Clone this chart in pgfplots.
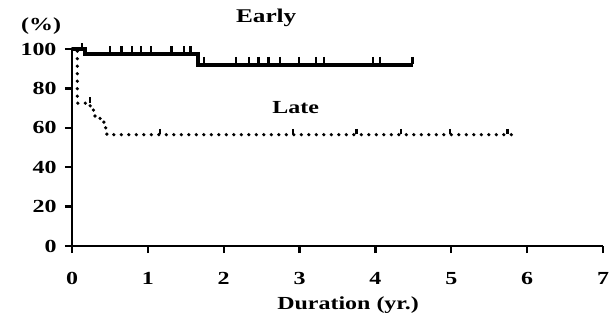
\documentclass[border=0pt]{standalone}
\usepackage{fontspec}
\setmainfont{Liberation Serif}[FakeStretch=1.3]
\usepackage{pgfplots}
\pgfplotsset{compat=1.18}
\begin{document}
\begin{tikzpicture}
\begin{axis}[
  at={(0,0)}, anchor=south west,
  scale only axis, width=531bp, height=197bp,
  xmin=0, xmax=7, ymin=0, ymax=100,
  axis lines*=left,
  axis line style={line width=2.6bp},
  xtick={0,1,...,7}, ytick={0,20,...,100},
  tick align=outside,
  major tick length=7bp,
  tick style={line width=2.4bp, black},
  /pgf/number format/assume math mode=true,
  ticklabel style={font=\fontsize{18.5}{21}\selectfont\bfseries},
  xticklabel style={yshift=-16bp},
  yticklabel style={xshift=-5bp},
  clip=false,
]
% Early
\addplot[black, line width=3.5bp, line join=miter] coordinates {
  (0,100) (0.17,100) (0.17,97.5) (1.66,97.5) (1.66,92) (4.49,92)
};
\addplot[only marks, mark=|, mark size=3.5bp, mark options={line width=2.4bp, black}] coordinates {
  (0.13,101.2) (0.50,99.7) (0.65,99.7) (0.79,99.7) (0.91,99.7) (1.04,99.7) (1.31,99.7) (1.48,99.7) (1.56,99.7)
  (1.74,94.2) (2.16,94.2) (2.33,94.2) (2.46,94.2) (2.59,94.2) (2.74,94.2) (2.99,94.2) (3.22,94.2) (3.32,94.2) (3.97,94.2) (4.06,94.2) (4.49,94.2)
};
% Late
\addplot[black, line width=3.6bp, line cap=round, dash pattern=on 0bp off 7.5bp] coordinates {
  (0,100) (0.07,100) (0.07,72.5) (0.24,72.5) (0.24,69) (0.30,69) (0.30,66) (0.37,66) (0.37,63)
  (0.42,63) (0.42,60) (0.46,60) (0.46,56.5) (5.81,56.5)
};
\addplot[only marks, mark=|, mark size=2.6bp, mark options={line width=2.4bp, black}] coordinates {
  (0.24,74.1) (1.16,58.1) (2.91,58.1) (3.75,58.1) (4.34,58.1) (4.98,58.1) (5.74,58.1)
};
\node[font=\fontsize{19.5}{22}\selectfont\bfseries] at (axis cs:2.56,115.7) {Early};
\node[font=\fontsize{18.5}{21}\selectfont\bfseries] at (axis cs:2.95,70.5) {Late};
\node[font=\fontsize{18.5}{21}\selectfont\bfseries] at (rel axis cs:-0.058,1.115) {(\%)};
\node[font=\fontsize{18.5}{21}\selectfont\bfseries] at (rel axis cs:0.52,-0.30) {Duration (yr.)};
\end{axis}
\pgfresetboundingbox
\useasboundingbox (-72bp,-75bp) rectangle (540bp,246bp);
\end{tikzpicture}
\end{document}
